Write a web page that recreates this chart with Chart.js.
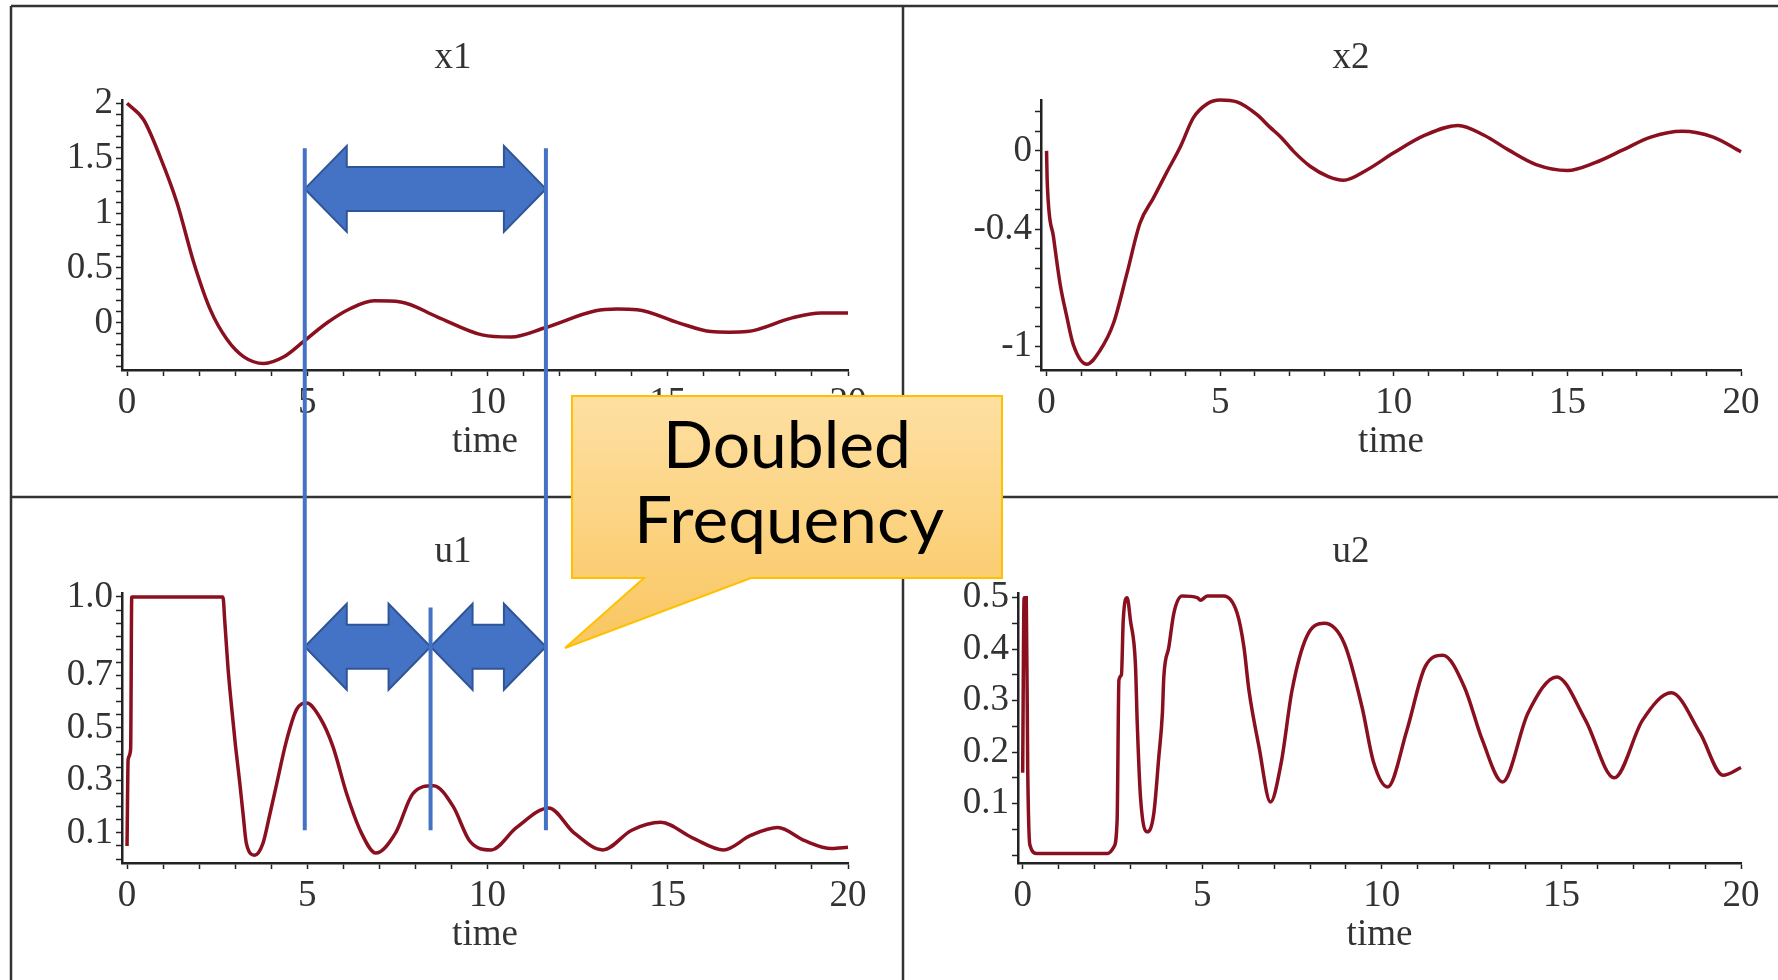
<!DOCTYPE html>
<html>
<head>
<meta charset="utf-8">
<script src="https://cdn.jsdelivr.net/npm/chart.js@4.4.0/dist/chart.umd.min.js"></script>
<style>
  html, body { margin: 0; padding: 0; background: #fff; }
  #page { position: relative; width: 1778px; height: 980px; overflow: hidden; background: #fff; }
  #frame, #overlay, #callout { position: absolute; left: 0; top: 0; pointer-events: none; }
  canvas.plot { position: absolute; }
</style>
</head>
<body>
<div id="page">
  <svg id="frame" width="1778" height="980">
    <g stroke="#333" stroke-width="2.5">
      <line x1="11" y1="6" x2="1778" y2="6"/>
      <line x1="11" y1="6" x2="11" y2="980"/>
      <line x1="903" y1="6" x2="903" y2="980"/>
      <line x1="11" y1="497" x2="1778" y2="497"/>
    </g>
  </svg>
  <canvas id="x1Chart" class="plot" width="900" height="490" style="left:0;top:0"></canvas>
  <canvas id="x2Chart" class="plot" width="873" height="490" style="left:905px;top:0"></canvas>
  <canvas id="u1Chart" class="plot" width="900" height="480" style="left:0;top:500px"></canvas>
  <canvas id="u2Chart" class="plot" width="873" height="480" style="left:905px;top:500px"></canvas>
  <canvas id="overlay" width="1778" height="980"></canvas>
  <svg id="callout" width="1778" height="980">
    <defs>
      <linearGradient id="calloutFill" x1="0" y1="0" x2="0" y2="1">
        <stop offset="0" stop-color="#fee0a3"/>
        <stop offset="1" stop-color="#f9c660"/>
      </linearGradient>
    </defs>
    <path d="M572,396 H1002 V578 H751 L565,648 L644,578 H572 Z" fill="url(#calloutFill)" stroke="#ffc000" stroke-width="2"/>
    <text x="663" y="468" font-family="Lato" font-size="66" fill="#000" textLength="248" lengthAdjust="spacingAndGlyphs">Doubled</text>
    <text x="634" y="543" font-family="Lato" font-size="66" fill="#000" textLength="310" lengthAdjust="spacingAndGlyphs">Frequency</text>
  </svg>
</div>
<script>
const x1Time = [0, 0.46, 0.92, 1.39, 1.85, 2.31, 2.77, 3.24, 3.79, 4.35, 4.9, 5.55, 6.2, 6.85, 7.59, 8.6, 9.85, 10.65, 11.6, 13.0, 13.6, 14.15, 15.3, 16.2, 16.7, 17.2, 18.45, 19.25, 20];
const x1Vals = [2.0, 1.85, 1.51, 1.09, 0.55, 0.12, -0.15, -0.31, -0.37, -0.31, -0.17, 0, 0.13, 0.2, 0.19, 0.055, -0.11, -0.13, -0.045, 0.11, 0.125, 0.12, 0, -0.08, -0.085, -0.08, 0.045, 0.09, 0.09];

const x2Time = [0, 0.02, 0.2, 0.39, 0.58, 0.77, 1.16, 1.54, 1.93, 2.31, 2.69, 3.08, 3.46, 3.85, 4.23, 4.62, 5.0, 5.48, 6.06, 6.44, 6.75, 7.1, 7.6, 8.1, 8.55, 9.2, 10.0, 10.9, 11.85, 12.6, 13.3, 14.1, 15.0, 15.8, 16.6, 17.4, 18.3, 19.2, 20];
const x2Vals = [0, -0.16, -0.44, -0.68, -0.845, -0.99, -1.09, -1.02, -0.88, -0.63, -0.37, -0.24, -0.11, 0.02, 0.17, 0.24, 0.26, 0.25, 0.185, 0.12, 0.07, 0.0, -0.08, -0.13, -0.15, -0.1, -0.01, 0.08, 0.13, 0.08, 0.005, -0.07, -0.1, -0.06, 0.005, 0.07, 0.1, 0.07, -0.005];

const u1Time = [0, 0.03, 0.1, 0.13, 2.66, 2.71, 2.8, 2.9, 3.01, 3.12, 3.22, 3.31, 3.54, 3.77, 3.96, 4.14, 4.42, 4.7, 4.98, 5.35, 5.71, 6.09, 6.5, 6.9, 7.45, 7.93, 8.5, 9.05, 9.5, 10.1, 10.8, 11.7, 12.4, 13.2, 14.0, 14.8, 15.7, 16.55, 17.3, 18.05, 18.8, 19.55, 20];
const u1Vals = [0.05, 0.38, 0.42, 1.0, 1.0, 0.91, 0.73, 0.58, 0.43, 0.3, 0.17, 0.06, 0.015, 0.06, 0.17, 0.28, 0.45, 0.57, 0.595, 0.54, 0.43, 0.25, 0.1, 0.023, 0.1, 0.25, 0.28, 0.2, 0.07, 0.035, 0.12, 0.195, 0.1, 0.035, 0.11, 0.14, 0.08, 0.035, 0.09, 0.12, 0.07, 0.04, 0.045];

const u2Time = [0, 0.04, 0.1, 0.14, 0.2, 0.4, 2.36, 2.54, 2.63, 2.68, 2.75, 2.8, 2.91, 3.0, 3.14, 3.19, 3.28, 3.47, 3.65, 3.79, 3.89, 3.93, 4.07, 4.21, 4.44, 4.86, 4.95, 5.14, 5.6, 5.97, 6.16, 6.3, 6.58, 6.9, 7.2, 7.5, 7.9, 8.4, 8.96, 9.45, 9.77, 10.16, 10.7, 11.2, 11.7, 12.3, 12.8, 13.36, 14.07, 14.87, 15.67, 16.47, 17.26, 18.06, 18.86, 19.5, 20];
const u2Vals = [0.16, 0.5, 0.5, 0.17, 0.02, 0.003, 0.003, 0.016, 0.068, 0.34, 0.35, 0.456, 0.5, 0.456, 0.37, 0.256, 0.113, 0.045, 0.08, 0.19, 0.275, 0.346, 0.404, 0.47, 0.503, 0.5, 0.495, 0.503, 0.503, 0.47, 0.404, 0.32, 0.21, 0.103, 0.18, 0.32, 0.423, 0.45, 0.41, 0.287, 0.18, 0.132, 0.243, 0.365, 0.388, 0.326, 0.223, 0.142, 0.276, 0.346, 0.262, 0.15, 0.262, 0.315, 0.237, 0.155, 0.17];

// tick labels
const timeLabels = [0, 5, 10, 15, 20];
const x1YLabels = [0, 0.5, 1, 1.5, 2];
const x2YLabels = [-1, -0.4, 0];
const u1YLabels = [0.1, 0.3, 0.5, 0.7, 1.0];
const u2YLabels = [0.1, 0.2, 0.3, 0.4, 0.5];

// annotation marks (time of the blue lines, heights of arrows)
const markTimes = [4.93, 8.42, 11.62];
const lineTopX1 = 1.59;
const midLineTopU1 = 0.96;
const lineBottomU1 = 0.11;
const bigArrowX1 = 1.22;
const smallArrowU1 = 0.81;

const serif = '"Liberation Serif", "Times New Roman", serif';
const inkColor = '#333';
const axisColor = '#222';
const curveColor = '#8a1020';
const blue = '#4472c4';
const blueEdge = '#2f5597';

function tickGrid(min, max, step) {
  const out = [];
  for (let k = Math.ceil(min / step - 1e-9); k * step <= max + 1e-9; k++) {
    out.push({ value: Math.round(k * step * 1e6) / 1e6 });
  }
  return out;
}

function labelFor(v, labels, fmt) {
  return labels.some(l => Math.abs(l - v) < 1e-6) ? fmt(v) : '';
}

function makeChart(id, time, vals, o) {
  const font = { family: serif, size: 37, lineHeight: 1.2, weight: 'normal' };
  return new Chart(document.getElementById(id), {
    type: 'line',
    data: {
      datasets: [{
        data: time.map((t, i) => ({ x: t, y: vals[i] })),
        borderColor: curveColor,
        borderWidth: 3.5,
        pointRadius: 0,
        cubicInterpolationMode: 'monotone',
        clip: false
      }]
    },
    options: {
      responsive: false,
      animation: false,
      devicePixelRatio: 1,
      layout: { padding: o.pad },
      plugins: {
        legend: { display: false },
        tooltip: { enabled: false },
        title: { display: true, text: o.title, color: inkColor, font: font, padding: o.titlePad }
      },
      scales: {
        x: {
          type: 'linear', min: o.xMin, max: 20,
          border: { color: axisColor, width: 2.5 },
          grid: { drawOnChartArea: false, tickLength: 6, color: axisColor, tickWidth: 1.5 },
          ticks: { autoSkip: false, maxRotation: 0, padding: 5, color: inkColor, font: font,
                   callback: v => labelFor(v, timeLabels, String) },
          afterBuildTicks: s => { s.ticks = tickGrid(s.min, s.max, 1); },
          afterFit: s => { s.height = o.xHeight; },
          title: { display: true, text: 'time', color: inkColor, font: font, padding: 0 }
        },
        y: {
          type: 'linear', min: o.yMin, max: o.yMax,
          border: { color: axisColor, width: 2.5 },
          grid: { drawOnChartArea: false, tickLength: 6, color: axisColor, tickWidth: 1.5 },
          ticks: { autoSkip: false, padding: 3, color: inkColor, font: font,
                   callback: v => labelFor(v, o.yLabels, o.fmt) },
          afterBuildTicks: s => { s.ticks = tickGrid(s.min, s.max, o.yStep); },
          afterFit: s => { s.width = o.yWidth; }
        }
      }
    }
  });
}

const leftPad = { left: 58, right: 52, top: 0 };
const rightPad = { left: 56, right: 37, top: 0 };

const x1Chart = makeChart('x1Chart', x1Time, x1Vals, {
  title: 'x1', pad: { ...leftPad, bottom: 25.8 }, titlePad: { top: 35.8, bottom: 19.8 },
  xMin: -0.14, yMin: -0.43, yMax: 2.03, yStep: 0.1, yLabels: x1YLabels, fmt: String,
  yWidth: 64, xHeight: 94.2
});
const x2Chart = makeChart('x2Chart', x2Time, x2Vals, {
  title: 'x2', pad: { ...rightPad, bottom: 25.8 }, titlePad: { top: 35.8, bottom: 19.8 },
  xMin: -0.16, yMin: -1.12, yMax: 0.26, yStep: 0.1, yLabels: x2YLabels, fmt: String,
  yWidth: 80, xHeight: 94.2
});
const u1Chart = makeChart('u1Chart', u1Time, u1Vals, {
  title: 'u1', pad: { ...leftPad, bottom: 22.8 }, titlePad: { top: 29.8, bottom: 18.8 },
  xMin: -0.14, yMin: -0.015, yMax: 1.015, yStep: 0.05, yLabels: u1YLabels, fmt: v => v.toFixed(1),
  yWidth: 64, xHeight: 94.2
});
const u2Chart = makeChart('u2Chart', u2Time, u2Vals, {
  title: 'u2', pad: { ...rightPad, bottom: 22.8 }, titlePad: { top: 29.8, bottom: 18.8 },
  xMin: -0.13, yMin: -0.0155, yMax: 0.509, yStep: 0.05, yLabels: u2YLabels, fmt: v => v.toFixed(1),
  yWidth: 57, xHeight: 94.2
});

function doubleArrow(ctx, xa, xb, yc) {
  const hl = 42, hh = 43, sh = 22;
  ctx.beginPath();
  ctx.moveTo(xa, yc);
  ctx.lineTo(xa + hl, yc - hh);
  ctx.lineTo(xa + hl, yc - sh);
  ctx.lineTo(xb - hl, yc - sh);
  ctx.lineTo(xb - hl, yc - hh);
  ctx.lineTo(xb, yc);
  ctx.lineTo(xb - hl, yc + hh);
  ctx.lineTo(xb - hl, yc + sh);
  ctx.lineTo(xa + hl, yc + sh);
  ctx.lineTo(xa + hl, yc + hh);
  ctx.closePath();
  ctx.fillStyle = blue;
  ctx.fill();
  ctx.strokeStyle = blueEdge;
  ctx.lineWidth = 2;
  ctx.stroke();
}

function drawAnnotations() {
  const ctx = document.getElementById('overlay').getContext('2d');
  const uTop = 500;
  const px = t => x1Chart.scales.x.getPixelForValue(t);
  const [xa, xm, xb] = markTimes.map(px);
  const yTop = x1Chart.scales.y.getPixelForValue(lineTopX1);
  const yMidTop = uTop + u1Chart.scales.y.getPixelForValue(midLineTopU1);
  const yBottom = uTop + u1Chart.scales.y.getPixelForValue(lineBottomU1);

  doubleArrow(ctx, xa, xb, x1Chart.scales.y.getPixelForValue(bigArrowX1));
  const ySmall = uTop + u1Chart.scales.y.getPixelForValue(smallArrowU1);
  doubleArrow(ctx, xa, xm, ySmall);
  doubleArrow(ctx, xm, xb, ySmall);

  ctx.strokeStyle = blue;
  ctx.lineWidth = 4;
  [[xa, yTop], [xb, yTop], [xm, yMidTop]].forEach(([x, y0]) => {
    ctx.beginPath();
    ctx.moveTo(x, y0);
    ctx.lineTo(x, yBottom);
    ctx.stroke();
  });
}

drawAnnotations();
</script>
</body>
</html>
